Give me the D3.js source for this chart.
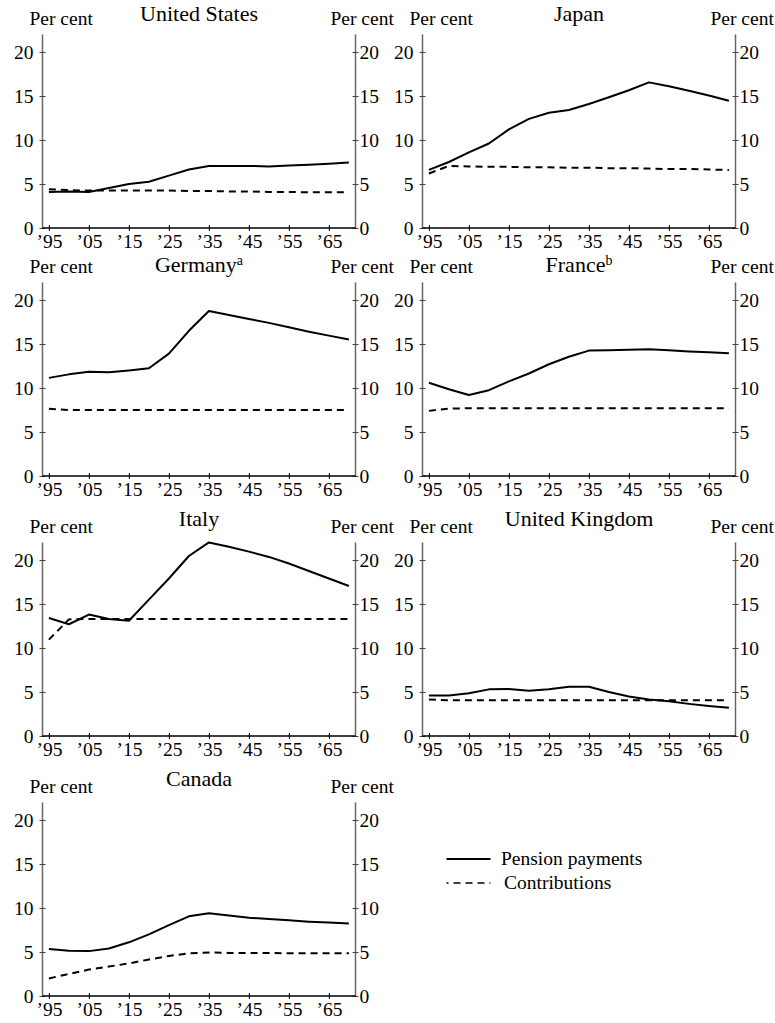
<!DOCTYPE html>
<html>
<head>
<meta charset="utf-8">
<script src="https://cdn.jsdelivr.net/npm/d3@7"></script>
<style>
  body { margin: 0; background: #fff; }
  svg { display: block; font-family: "Liberation Serif", "Times New Roman", serif; }
</style>
</head>
<body>
<svg id="chart" width="775" height="1023"></svg>
<script>
// ---- data ----
const years = [1995, 2000, 2005, 2010, 2015, 2020, 2025, 2030, 2035, 2040, 2045, 2050, 2055, 2060, 2065, 2070];
const xTickYears = [1995, 2005, 2015, 2025, 2035, 2045, 2055, 2065];
const yTicks = [0, 5, 10, 15, 20];
const countries = ["United States", "Japan", "Germany", "France", "Italy", "United Kingdom", "Canada"];
const titleNotes = ["", "", "a", "b", "", "", ""];

const usPension   = [4.1, 4.15, 4.1, 4.55, 5.0, 5.25, 5.95, 6.65, 7.05, 7.05, 7.05, 7.0, 7.1, 7.2, 7.3, 7.45];
const usContrib   = [4.4, 4.3, 4.25, 4.25, 4.25, 4.25, 4.25, 4.2, 4.2, 4.15, 4.15, 4.1, 4.1, 4.05, 4.05, 4.05];
const jpPension   = [6.6, 7.5, 8.6, 9.6, 11.2, 12.4, 13.1, 13.4, 14.1, 14.85, 15.65, 16.55, 16.1, 15.6, 15.05, 14.45];
const jpContrib   = [6.2, 7.05, 7.0, 6.95, 6.95, 6.9, 6.9, 6.85, 6.85, 6.8, 6.8, 6.75, 6.7, 6.7, 6.65, 6.6];
const dePension   = [11.15, 11.55, 11.85, 11.8, 12.0, 12.25, 13.9, 16.5, 18.75, 18.3, 17.85, 17.4, 16.9, 16.4, 15.95, 15.5];
const deContrib   = [7.65, 7.5, 7.5, 7.5, 7.5, 7.5, 7.5, 7.5, 7.5, 7.5, 7.5, 7.5, 7.5, 7.5, 7.5, 7.5];
const frPension   = [10.6, 9.85, 9.2, 9.75, 10.75, 11.65, 12.7, 13.55, 14.25, 14.3, 14.35, 14.4, 14.3, 14.15, 14.05, 13.95];
const frContrib   = [7.4, 7.65, 7.7, 7.7, 7.7, 7.7, 7.7, 7.7, 7.7, 7.7, 7.7, 7.7, 7.7, 7.7, 7.7, 7.7];
const itPension   = [13.4, 12.7, 13.8, 13.3, 13.1, 15.5, 17.9, 20.45, 22.0, 21.5, 20.95, 20.35, 19.6, 18.75, 17.9, 17.05];
const itContrib   = [10.95, 13.25, 13.3, 13.3, 13.3, 13.3, 13.3, 13.3, 13.3, 13.3, 13.3, 13.3, 13.3, 13.3, 13.3, 13.3];
const ukPension   = [4.6, 4.6, 4.85, 5.3, 5.35, 5.15, 5.3, 5.6, 5.6, 5.0, 4.5, 4.15, 3.95, 3.65, 3.4, 3.2];
const ukContrib   = [4.15, 4.05, 4.05, 4.05, 4.05, 4.05, 4.05, 4.05, 4.05, 4.05, 4.05, 4.05, 4.05, 4.05, 4.05, 4.05];
const caPension   = [5.35, 5.15, 5.1, 5.4, 6.1, 7.0, 8.05, 9.05, 9.4, 9.15, 8.9, 8.75, 8.6, 8.45, 8.35, 8.25];
const caContrib   = [2.0, 2.5, 3.0, 3.35, 3.7, 4.15, 4.55, 4.85, 4.95, 4.9, 4.9, 4.9, 4.85, 4.85, 4.85, 4.85];

const pensionSeries = [usPension, jpPension, dePension, frPension, itPension, ukPension, caPension];
const contribSeries = [usContrib, jpContrib, deContrib, frContrib, itContrib, ukContrib, caContrib];
const legendLabels = ["Pension payments", "Contributions"];

// ---- layout ----
const svg = d3.select("#chart");
svg.append("rect").attr("width", 775).attr("height", 1023).attr("fill", "#fff");

const colX = [42.5, 422.5];
const rowZero = [228, 476, 736, 996];
const titleLift = [4, 1, 7, 7];
const plotW = 313;
const unitPx = 8.8;
const yMax = 22;
const plotH = yMax * unitPx;
const fontSize = 19.5;
const perCentGap = 203; // distance from zero line up to "Per cent" baseline

const x = d3.scaleLinear().domain([1993.4, 1993.4 + plotW / 4]).range([0, plotW]);
const y = d3.scaleLinear().domain([0, yMax]).range([plotH, 0]);

const line = d3.line().x((d, i) => x(years[i])).y(d => y(d));

countries.forEach((name, k) => {
  const col = k % 2, row = Math.floor(k / 2);
  const x0 = colX[col];
  const top = rowZero[row] - plotH;
  const g = svg.append("g").attr("transform", `translate(${x0},${top})`);
  const labelY = plotH - perCentGap;

  // left axis
  const la = g.append("g").call(d3.axisLeft(y).tickValues(yTicks).tickSize(3).tickPadding(6).tickFormat(d3.format("d")));
  la.select(".domain").attr("stroke", "#666").attr("stroke-width", 1.5).attr("d", `M0,0V${plotH}`);
  la.selectAll(".tick line").attr("x1", 3).attr("x2", -3).attr("stroke", "#444");
  la.selectAll(".tick text").attr("font-size", fontSize).attr("font-family", "Liberation Serif").attr("fill", "#000").attr("dy", "0.32em");

  // right axis
  const ra = g.append("g").attr("transform", `translate(${plotW},0)`)
    .call(d3.axisRight(y).tickValues(yTicks).tickSize(3).tickPadding(1).tickFormat(d3.format("d")));
  ra.select(".domain").attr("stroke", "#666").attr("stroke-width", 1.5).attr("d", `M0,0V${plotH}`);
  ra.selectAll(".tick line").attr("x1", -3).attr("x2", 3).attr("stroke", "#444");
  ra.selectAll(".tick text").attr("font-size", fontSize).attr("font-family", "Liberation Serif").attr("fill", "#000").attr("dy", "0.32em");

  // bottom axis
  const ba = g.append("g").attr("transform", `translate(0,${plotH})`)
    .call(d3.axisBottom(x).tickValues(xTickYears).tickSize(3).tickPadding(3).tickFormat(d => "\u2019" + String(d).slice(2)));
  ba.select(".domain").attr("stroke", "#000").attr("stroke-width", 1.3).attr("d", `M0,0H${plotW}`);
  ba.selectAll(".tick line").attr("y1", -3).attr("y2", 3).attr("stroke", "#000");
  ba.selectAll(".tick text").attr("font-size", fontSize).attr("font-family", "Liberation Serif").attr("fill", "#000").attr("dy", "0.71em");

  // Per cent labels
  g.append("text").attr("x", -13).attr("y", labelY).text("Per cent")
    .attr("font-size", fontSize).attr("fill", "#000");
  g.append("text").attr("x", plotW - 25).attr("y", labelY).text("Per cent")
    .attr("font-size", fontSize).attr("fill", "#000");

  // title
  const t = g.append("text").attr("x", plotW / 2).attr("y", labelY - titleLift[row])
    .attr("text-anchor", "middle").attr("font-size", 22).attr("fill", "#000");
  t.append("tspan").text(name);
  if (titleNotes[k]) {
    t.append("tspan").text(titleNotes[k]).attr("font-size", 14).attr("dy", -7);
  }

  // series
  g.append("path").datum(contribSeries[k]).attr("d", line)
    .attr("fill", "none").attr("stroke", "#000").attr("stroke-width", 2).attr("stroke-dasharray", "7,5");
  g.append("path").datum(pensionSeries[k]).attr("d", line)
    .attr("fill", "none").attr("stroke", "#000").attr("stroke-width", 2).attr("stroke-linejoin", "round");
});

// legend
const lg = svg.append("g");
const legY = [859, 883];
const legDash = [null, "7,5"];
legendLabels.forEach((lab, i) => {
  const l = lg.append("line").attr("x1", 446.5).attr("x2", 490.5).attr("y1", legY[i]).attr("y2", legY[i])
    .attr("stroke", "#000").attr("stroke-width", i === 0 ? 2 : 1.6);
  if (legDash[i]) l.attr("stroke-dasharray", legDash[i]).attr("stroke-dashoffset", 5);
  lg.append("text").attr("x", i === 0 ? 501 : 504).attr("y", legY[i]).attr("dy", "0.32em")
    .attr("font-size", fontSize).attr("fill", "#000").text(lab);
});
</script>
</body>
</html>
